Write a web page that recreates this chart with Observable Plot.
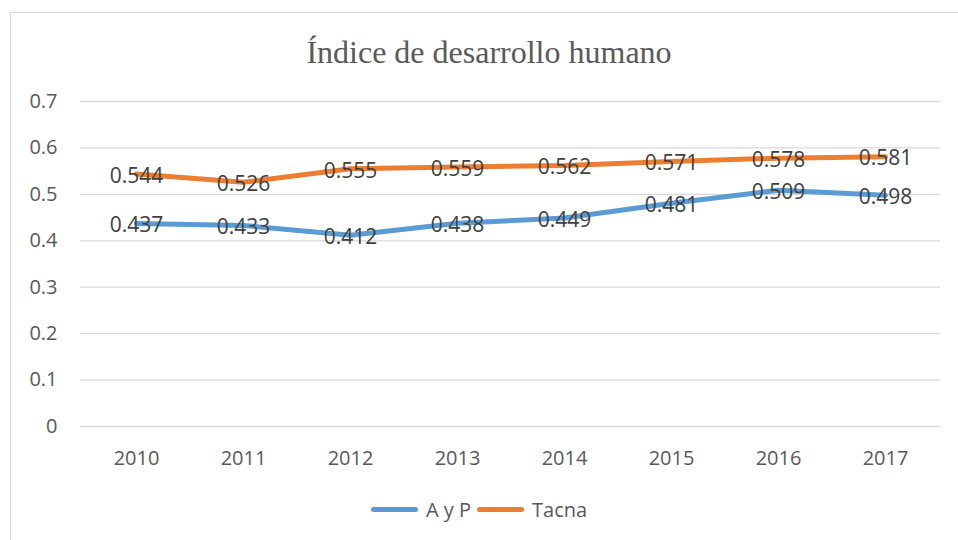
<!DOCTYPE html>
<html>
<head>
<meta charset="utf-8">
<script src="https://cdn.jsdelivr.net/npm/d3@7"></script>
<script src="https://cdn.jsdelivr.net/npm/@observablehq/plot@0.6"></script>
<style>
  body { margin: 0; background: #fff; }
  #wrap { position: relative; width: 958px; height: 540px; overflow: hidden; background: #fff; }
  #frame { position: absolute; left: 10px; top: 12px; width: 960px; height: 540px; border: 1px solid #d9d9d9; box-sizing: border-box; }
  #title { position: absolute; left: 0; top: 34px; width: 978px; text-align: center; font-family: "Liberation Serif", "Times New Roman", serif; font-size: 32px; color: #595959; }
  #chart { position: absolute; left: 0; top: 80px; }
  #legend { position: absolute; left: 0; top: 496px; width: 958px; display: flex; justify-content: center; align-items: center; font-family: "Open Sans", sans-serif; font-size: 20px; color: #595959; }
  .item { display: flex; align-items: center; margin: 0 3px; }
  .sw { width: 47px; height: 5px; border-radius: 3px; margin-right: 8px; }
</style>
</head>
<body>
<div id="wrap">
  <div id="frame"></div>
  <div id="title">Índice de desarrollo humano</div>
  <div id="chart"></div>
  <div id="legend"></div>
</div>
<script>
const years = ["2010", "2011", "2012", "2013", "2014", "2015", "2016", "2017"];
const seriesNames = ["A y P", "Tacna"];
const ayp = [0.437, 0.433, 0.412, 0.438, 0.449, 0.481, 0.509, 0.498];
const tacna = [0.544, 0.526, 0.555, 0.559, 0.562, 0.571, 0.578, 0.581];
const yTicks = [0, 0.1, 0.2, 0.3, 0.4, 0.5, 0.6, 0.7];
const colors = ["#5B9BD5", "#ED7D31"];

const data = [];
[ayp, tacna].forEach((vals, si) => {
  vals.forEach((v, i) => data.push({ series: seriesNames[si], year: years[i], value: v }));
});

const plot = Plot.plot({
  width: 958,
  height: 400,
  marginLeft: 80,
  marginRight: 18,
  marginTop: 21,
  marginBottom: 54,
  style: { fontFamily: "'Open Sans', sans-serif", background: "transparent", overflow: "visible" },
  x: { type: "point", domain: years, padding: 0.5, label: null },
  y: { domain: [0, 0.7], label: null },
  color: { domain: seriesNames, range: colors },
  marks: [
    Plot.ruleY(yTicks, { stroke: "#d9d9d9", strokeWidth: 1.3, strokeOpacity: 1 }),
    Plot.axisY({ ticks: yTicks, tickSize: 0, tickPadding: 23, tickFormat: d => String(+d.toFixed(1)), fontSize: 20, fill: "#595959", label: null }),
    Plot.axisX({ tickSize: 0, tickPadding: 24, fontSize: 20, fill: "#595959", label: null }),
    Plot.line(data, { x: "year", y: "value", z: "series", stroke: "series", strokeWidth: 5, strokeLinecap: "round", strokeLinejoin: "round" }),
    Plot.text(data, { x: "year", y: "value", text: d => d.value.toFixed(3), fontSize: 21, fill: "#404040", dy: 2 })
  ]
});
document.getElementById("chart").appendChild(plot);

const legend = document.getElementById("legend");
seriesNames.forEach((name, i) => {
  const it = document.createElement("div");
  it.className = "item";
  const sw = document.createElement("div");
  sw.className = "sw";
  sw.style.background = colors[i];
  const tx = document.createElement("span");
  tx.textContent = name;
  it.appendChild(sw);
  it.appendChild(tx);
  legend.appendChild(it);
});
</script>
</body>
</html>
